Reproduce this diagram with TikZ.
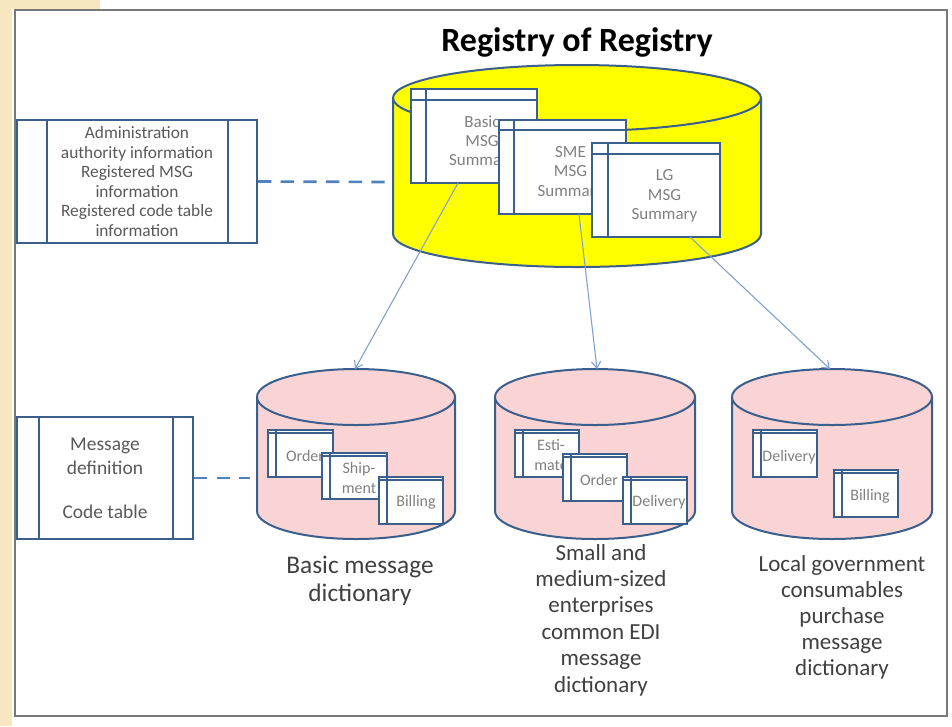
\documentclass[tikz,border=0pt]{standalone}
\usepackage{fontspec}
\setmainfont{Carlito}
\usetikzlibrary{arrows.meta,calc,fit}

\definecolor{winblue}{RGB}{58,95,140}
\definecolor{dashblue}{RGB}{79,129,189}
\definecolor{feedblue}{RGB}{125,160,208}
\definecolor{drumpink}{RGB}{250,212,212}
\definecolor{drumyellow}{RGB}{255,255,0}
\definecolor{framegray}{RGB}{120,120,120}
\definecolor{slidebeige}{RGB}{246,231,192}
\definecolor{sumgray}{RGB}{128,128,128}
\definecolor{infogray}{RGB}{89,89,89}
\definecolor{labelgray}{RGB}{64,64,64}

\tikzset{
  winline/.style={draw=winblue, line width=1.5pt},
  winbox/.style={winline, fill=white, inner sep=0pt},
  sumtext/.style={align=center, text=sumgray, font=\fontsize{12.75}{14.6}\selectfont},
  smalltext/.style={align=center, text=sumgray, font=\fontsize{12}{15}\selectfont},
  infotext/.style={align=center, text=infogray, font=\fontsize{13}{14.6}\selectfont},
  linkdash/.style={draw=dashblue, line width=2pt, dash pattern={on 10pt off 7pt}},
  feed/.style={draw=feedblue, line width=0.8pt, -{Straight Barb[length=5pt,width=7pt]}},
  dictlabel/.style={align=center, text=labelgray}
}

% cylinder: centre x, top y, bottom y, x radius, y radius, fill
\newcommand{\dbdrum}[6]{%
  \draw[winline, fill=#6] (#1-#4,#2) -- (#1-#4,#3) arc[start angle=180, end angle=0, x radius=#4, y radius=#5] -- (#1+#4,#2) -- cycle;
  \draw[winline, fill=#6] (#1,#2) ellipse [x radius=#4, y radius=#5];
}
% window bands of a message box: node, left band, top band
\newcommand{\winlines}[3]{%
  \draw[winline] ($(#1.north west)+(#2,0)$) -- ($(#1.south west)+(#2,0)$);
  \draw[winline] ($(#1.north west)+(0,#3)$) -- ($(#1.north east)+(0,#3)$);
}

\begin{document}
\begin{tikzpicture}[x=0.75pt,y=0.75pt,yscale=-1,xscale=1]
\useasboundingbox (0,0) rectangle (952,726);

%Slide background
\fill[white] (0,0) rectangle (952,726);
\fill[slidebeige] (0,0) rectangle (12,726);
\fill[slidebeige] (0,0) rectangle (100,9);
%Frame
\draw[framegray, line width=2pt] (15,10) rectangle (947,716);

% Text Node
\node[font=\fontsize{25.5}{30}\selectfont\bfseries] (title) at (577,42) {Registry of Registry};

%Shape: Can [registry of registry]
\dbdrum{577}{98}{234}{184}{33}{drumyellow}
\coordinate (rorside) at (393,182);

%Summary windows
\node[winbox, fit={(411,89) (537,183)}] (basicsum) {};
\winlines{basicsum}{16}{12}
\node[sumtext] (basictxt) at (482,142) {Basic\\MSG\\Summary};

\node[winbox, fit={(499,120) (626,214)}] (smesum) {};
\winlines{smesum}{16}{11}
\node[sumtext] (smetxt) at (570.5,172.5) {SME\\MSG\\Summary};

\node[winbox, fit={(592,143) (720,237)}] (lgsum) {};
\winlines{lgsum}{17}{12}
\node[sumtext] (lgtxt) at (664.5,196) {LG\\MSG\\Summary};

%Information box
\node[winbox, fit={(17,120) (257,243)}] (reginfo) {};
\draw[winline] ($(reginfo.north west)+(31,0)$) -- ($(reginfo.south west)+(31,0)$);
\draw[winline] ($(reginfo.north east)+(-30,0)$) -- ($(reginfo.south east)+(-30,0)$);
\node[infotext] (reginfotxt) at (reginfo.center) {Administration\\authority information\\Registered MSG\\information\\Registered code table\\information};
\draw[linkdash] (reginfo.east) -- (rorside);

%Shape: Can [dictionaries]
\dbdrum{356}{397}{511}{99}{28}{drumpink}
\dbdrum{595}{397}{511}{100}{28}{drumpink}
\dbdrum{832}{397}{511}{100}{28}{drumpink}
\coordinate (dictAtop) at (355,369);
\coordinate (dictBtop) at (597,369);
\coordinate (dictCtop) at (830,369);
\coordinate (dictAside) at (250,478);

%Basic message dictionary windows
\node[winbox, fit={(268,430) (333,477)}] (aorder) {};
\winlines{aorder}{9}{4}
\node[smalltext] (aordertxt) at (305,456) {Order};
\node[winbox, fit={(322,453) (387,499)}] (aship) {};
\winlines{aship}{9}{4}
\node[smalltext] (ashiptxt) at (359,478) {Ship-\\ment};
\node[winbox, fit={(379,477) (443,524)}] (abill) {};
\winlines{abill}{9}{4}
\node[smalltext] (abilltxt) at (416,502) {Billing};

%SME dictionary windows
\node[winbox, fit={(515,430) (579,477)}] (bestim) {};
\winlines{bestim}{9}{4}
\node[smalltext] (bestimtxt) at (551,455) {Esti-\\mate};
\node[winbox, fit={(563,454) (627,501)}] (border) {};
\winlines{border}{9}{4}
\node[smalltext] (bordertxt) at (599,480) {Order};
\node[winbox, fit={(623,477) (687,524)}] (bdeliv) {};
\winlines{bdeliv}{9}{4}
\node[smalltext] (bdelivtxt) at (659,502) {Delivery};

%LG dictionary windows
\node[winbox, fit={(753,430) (817,477)}] (cdeliv) {};
\winlines{cdeliv}{9}{4}
\node[smalltext] (cdelivtxt) at (789,457) {Delivery};
\node[winbox, fit={(834,470) (898,517)}] (cbill) {};
\winlines{cbill}{9}{4}
\node[smalltext] (cbilltxt) at (870,496) {Billing};

%Message definition box
\node[winbox, fit={(17,417) (193,539)}] (msgdef) {};
\draw[winline] ($(msgdef.north west)+(23,0)$) -- ($(msgdef.south west)+(23,0)$);
\draw[winline] ($(msgdef.north east)+(-21,0)$) -- ($(msgdef.south east)+(-21,0)$);
\node[align=center, text=infogray, font=\fontsize{14.6}{18}\selectfont] (msgdeftxt) at (msgdef.center) {Message\\definition\\[15pt]Code table};
\draw[linkdash] (msgdef.east) -- (dictAside);

%Straight Lines [feeds]
\coordinate (basicout) at (458,183);
\coordinate (smeout) at (579,214);
\coordinate (lgout) at (690,237);
\draw[feed] (basicout) -- (dictAtop);
\draw[feed] (smeout) -- (dictBtop);
\draw[feed] (lgout) -- (dictCtop);

% Text Node
\node[dictlabel, font=\fontsize{19}{21}\selectfont] (dictAlabel) at (360,581) {Basic message\\dictionary};
% Text Node
\node[dictlabel, font=\fontsize{17.25}{19.8}\selectfont] (dictBlabel) at (601,620) {Small and\\medium-sized\\enterprises\\common EDI\\message\\dictionary};
% Text Node
\node[dictlabel, font=\fontsize{17.25}{19.5}\selectfont] (dictClabel) at (842,617) {Local government\\consumables\\purchase\\message\\dictionary};

\end{tikzpicture}
\end{document}
